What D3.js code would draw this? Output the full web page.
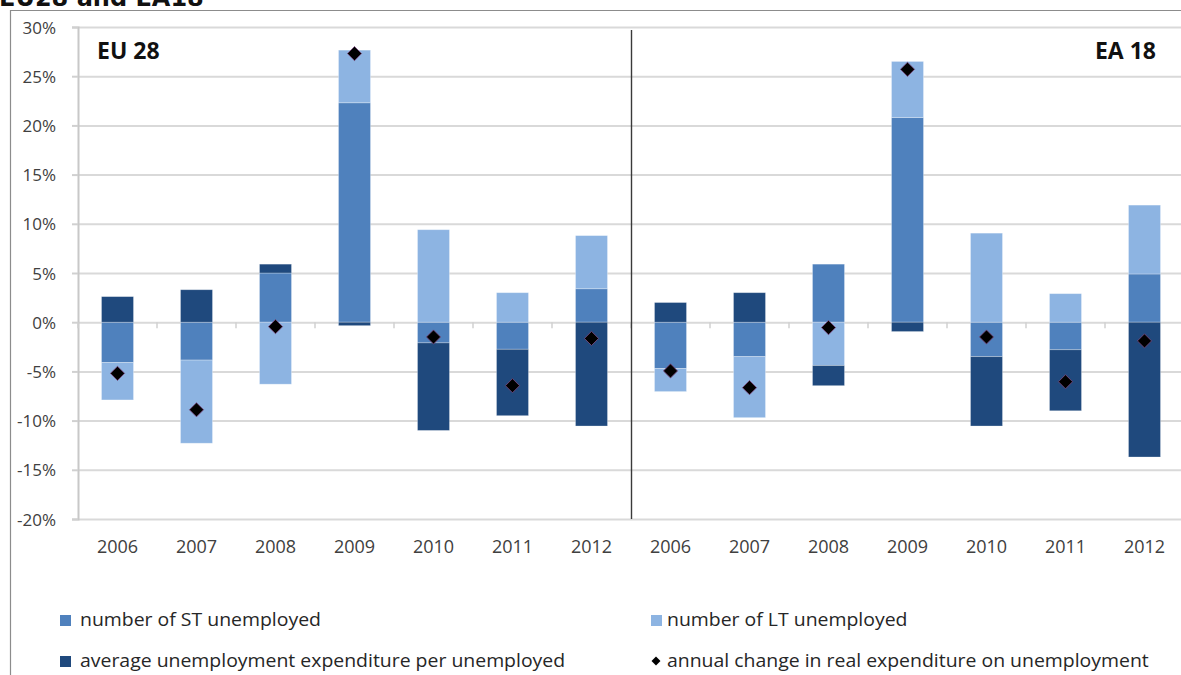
<!DOCTYPE html>
<html>
<head>
<meta charset="utf-8">
<script src="https://cdn.jsdelivr.net/npm/d3@7"></script>
<style>
  html, body { margin: 0; padding: 0; background: #fff; }
  svg { display: block; }
  text { font-family: "Open Sans", "Noto Sans", sans-serif; }
</style>
</head>
<body>
<svg id="chart" width="1181" height="675"></svg>
<script>
// Decomposition of the annual change in real unemployment expenditure (%)
const regions = ["EU 28", "EA 18"];
const years = ["2006", "2007", "2008", "2009", "2010", "2011", "2012"];

// EU 28 followed by EA 18, one value per year
const stUnemployed   = [-4.1, -3.85, 5.0, 22.3, -2.1, -2.75, 3.4,
                        -4.7, -3.5, 5.9, 20.8, -3.5, -2.8, 4.9];
const ltUnemployed   = [-3.8, -8.45, -6.3, 5.35, 9.4, 3.0, 5.4,
                        -2.35, -6.2, -4.4, 5.7, 9.05, 2.9, 7.0];
const avgExpenditure = [2.6, 3.3, 0.9, -0.35, -8.9, -6.75, -10.55,
                        2.0, 3.0, -2.05, -0.95, -7.05, -6.2, -13.7];
const realExpenditureChange = [-5.2, -8.9, -0.45, 27.3, -1.5, -6.45, -1.65,
                               -4.95, -6.65, -0.55, 25.7, -1.5, -6.05, -1.9];

const yTicks = [-20, -15, -10, -5, 0, 5, 10, 15, 20, 25, 30];

const seriesKeys = ["st", "lt", "avg"];
const seriesLabels = {
  st: "number of ST unemployed",
  lt: "number of LT unemployed",
  avg: "average unemployment expenditure per unemployed",
  total: "annual change in real expenditure on unemployment"
};
const colors = { st: "#4f81bd", lt: "#8db4e2", avg: "#1f497d" };

const rows = [];
regions.forEach((r, ri) => years.forEach((yr, yi) => {
  const i = ri * years.length + yi;
  rows.push({
    key: r + "|" + yr, region: r, year: yr,
    st: stUnemployed[i], lt: ltUnemployed[i], avg: avgExpenditure[i],
    total: realExpenditureChange[i]
  });
}));

const svg = d3.select("#chart");
const plot = { left: 78, right: 1184, top: 27, bottom: 519 };

const x = d3.scaleBand()
  .domain(rows.map(d => d.key))
  .range([plot.left, plot.right])
  .paddingInner(0.595)
  .paddingOuter(0.2975);

const y = d3.scaleLinear().domain([-20, 30]).range([plot.bottom, plot.top]);

// outer chart frame
svg.append("path")
  .attr("d", `M10.5,675 V10.5 H1181`)
  .attr("fill", "none").attr("stroke", "#8c8c8c").attr("stroke-width", 1.2);

// heading, partly above the frame
svg.append("text")
  .attr("x", -1).attr("y", 6)
  .style("font-family", "'DejaVu Sans', sans-serif")
  .style("font-weight", "bold").style("font-size", "24px")
  .attr("fill", "#111")
  .text("EU28 and EA18");

// horizontal gridlines
svg.append("g")
  .attr("transform", `translate(${plot.left},0)`)
  .call(d3.axisLeft(y).tickValues(yTicks).tickSize(-(plot.right - plot.left)).tickFormat(""))
  .call(g => g.select(".domain").remove())
  .call(g => g.selectAll("line").attr("stroke", "#d9d9d9").attr("stroke-width", 2));

// value axis
svg.append("g")
  .attr("transform", `translate(${plot.left},0)`)
  .call(d3.axisLeft(y).tickValues(yTicks).tickSize(6).tickPadding(16).tickFormat(d => d + "%"))
  .call(g => g.select(".domain").attr("stroke", "#c8c8c8").attr("stroke-width", 2))
  .call(g => g.selectAll("line").attr("stroke", "#d0d0d0").attr("stroke-width", 2))
  .call(g => g.selectAll("text")
    .style("font-size", "17px").attr("fill", "#404040").attr("dy", "0.36em"));

// stacked bars, positive and negative parts diverging from zero
const stacked = d3.stack().keys(seriesKeys).offset(d3.stackOffsetDiverging)(rows);

svg.append("g").selectAll("g")
  .data(stacked)
  .join("g")
  .attr("fill", d => colors[d.key])
  .selectAll("rect")
  .data(d => d)
  .join("rect")
  .attr("x", d => x(d.data.key))
  .attr("width", x.bandwidth())
  .attr("y", d => y(Math.max(d[0], d[1])))
  .attr("height", d => Math.abs(y(d[0]) - y(d[1])))
  .attr("stroke", "rgba(255,255,255,0.35)")
  .attr("stroke-width", 0.8);

// category tick marks along the zero line
svg.append("g")
  .selectAll("line")
  .data(d3.range(rows.length + 1))
  .join("line")
  .attr("x1", i => plot.left + i * x.step())
  .attr("x2", i => plot.left + i * x.step())
  .attr("y1", y(0))
  .attr("y2", y(0) + 6)
  .attr("stroke", "#d0d0d0").attr("stroke-width", 1.5);

// divider between the two regions
const divX = Math.round(plot.left + years.length * x.step()) + 0.5;
svg.append("line")
  .attr("x1", divX).attr("x2", divX)
  .attr("y1", 30).attr("y2", plot.bottom)
  .attr("stroke", "#3a3a3a").attr("stroke-width", 1.4);

// total change markers
const diamond = d3.symbol().type(d3.symbolSquare).size(100);
svg.append("g").selectAll("path")
  .data(rows)
  .join("path")
  .attr("d", diamond)
  .attr("transform", d => `translate(${x(d.key) + x.bandwidth() / 2},${y(d.total)}) rotate(45)`)
  .attr("fill", "#000")
  .attr("stroke", "#7a4a80").attr("stroke-width", 0.8);

// category labels
svg.append("g")
  .attr("transform", `translate(0,${plot.bottom + 21})`)
  .call(d3.axisBottom(x).tickSize(0).tickPadding(0).tickFormat(k => k.split("|")[1]))
  .call(g => g.select(".domain").remove())
  .call(g => g.selectAll("text").style("font-size", "18px").attr("fill", "#404040"));

// region labels
svg.append("text")
  .attr("x", 97).attr("y", 59)
  .style("font-weight", "bold").style("font-size", "23px").attr("fill", "#111")
  .text(regions[0]);
svg.append("text")
  .attr("x", 1156).attr("y", 59).attr("text-anchor", "end")
  .style("font-weight", "bold").style("font-size", "23px").attr("fill", "#111")
  .text(regions[1]);

// legend
const legendItems = [
  { key: "st", col: 0, row: 0 },
  { key: "lt", col: 1, row: 0 },
  { key: "avg", col: 0, row: 1 },
  { key: "total", col: 1, row: 1 }
];
const legendX = [60, 651];
const legendTextX = [20, 16];
const legendY = [620, 661];
const lg = svg.append("g").selectAll("g")
  .data(legendItems)
  .join("g")
  .attr("transform", d => `translate(${legendX[d.col]},${legendY[d.row]})`);
lg.filter(d => d.key !== "total").append("rect")
  .attr("x", 0).attr("y", -5).attr("width", 11).attr("height", 11)
  .attr("fill", d => colors[d.key]);
lg.filter(d => d.key === "total").append("path")
  .attr("d", d3.symbol().type(d3.symbolSquare).size(40))
  .attr("transform", "translate(5,0) rotate(45)")
  .attr("fill", "#000");
lg.append("text")
  .attr("transform", d => `translate(${legendTextX[d.col]},0) scale(1.08,1)`)
  .attr("dy", "0.36em")
  .style("font-size", "18px").attr("fill", "#262626")
  .text(d => seriesLabels[d.key]);
</script>
</body>
</html>
